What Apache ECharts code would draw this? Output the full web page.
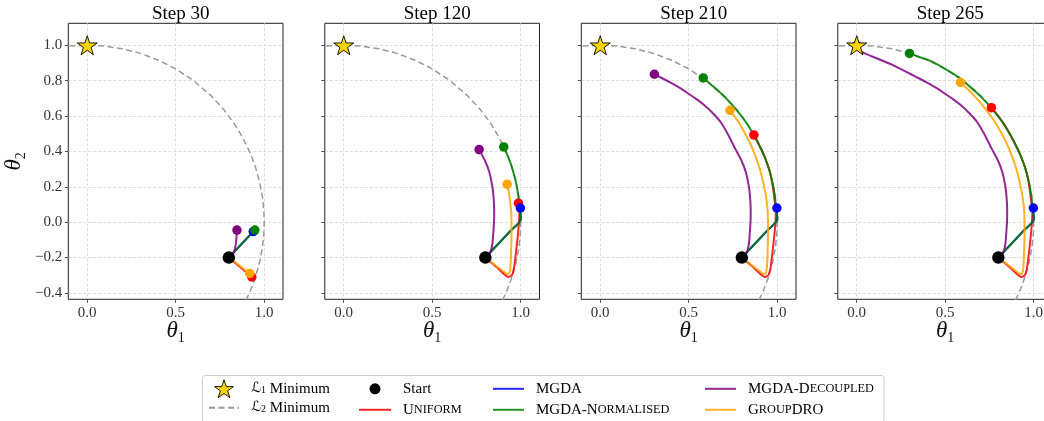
<!DOCTYPE html>
<html>
<head>
<meta charset="utf-8">
<script src="https://cdn.jsdelivr.net/npm/echarts@6/dist/echarts.min.js"></script>
<style>
html,body{margin:0;padding:0;background:#fff;}
#chart{width:1044px;height:421px;}
</style>
</head>
<body>
<div id="chart"></div>
<script>
// ---------------- data ----------------
const stepTitles = ['Step 30', 'Step 120', 'Step 210', 'Step 265'];
const xTicks = [0, 0.5, 1.0];
const yTicks = [-0.4, -0.2, 0.0, 0.2, 0.4, 0.6, 0.8, 1.0];
const startPoint = [0.8, -0.2];
const l1Minimum = [0.0, 1.0];
// L2 minimum set (dashed arc)
const l2Arc = [[-0.1,0.995],[0.0,1.0],[0.1,0.995],[0.2,0.98],[0.3,0.954],[0.4,0.917],[0.5,0.866],
  [0.6,0.8],[0.7,0.714],[0.77,0.638],[0.83,0.558],[0.88,0.475],[0.92,0.392],[0.95,0.312],
  [0.975,0.222],[0.99,0.141],[0.998,0.06],[1.0,0.0],[0.998,-0.06],[0.99,-0.141],[0.975,-0.222],
  [0.95,-0.312],[0.92,-0.392],[0.88,-0.475]];

// trajectories (theta1, theta2); *Ends = index of the last point at each step panel
const uniformPath = [[0.80,-0.20],[0.865,-0.255],[0.93,-0.31],[0.95,-0.30],[0.962,-0.26],[0.972,-0.18],
  [0.982,-0.09],[0.99,0.0],[0.992,0.06],[0.987,0.107],[0.975,0.20],[0.96,0.28],[0.94,0.34],
  [0.91,0.41],[0.868,0.493],[0.835,0.55],[0.80,0.60],[0.761,0.647]];
const uniformEnds = [2, 9, 14, 17];

const mgdaPath = [[0.80,-0.20],[0.938,-0.053],[1.0,0.015],[0.998,0.08]];
const mgdaEnds = [1, 3, 3, 3];

const normalisedPath = [[0.80,-0.20],[0.947,-0.045],[1.002,0.017],[0.994,0.07],[0.986,0.15],
  [0.973,0.225],[0.953,0.30],[0.931,0.365],[0.904,0.425],[0.87,0.49],[0.83,0.555],[0.78,0.622],
  [0.73,0.68],[0.68,0.73],[0.63,0.774],[0.582,0.815],[0.53,0.848],[0.455,0.892],[0.40,0.918],
  [0.345,0.936],[0.298,0.954]];
const normalisedEnds = [1, 8, 15, 20];

const decoupledPath = [[0.80,-0.20],[0.828,-0.17],[0.84,-0.12],[0.846,-0.045],[0.849,0.0],
  [0.85,0.05],[0.848,0.12],[0.84,0.20],[0.822,0.285],[0.797,0.35],[0.765,0.41],[0.725,0.49],
  [0.68,0.566],[0.635,0.617],[0.587,0.662],[0.54,0.698],[0.493,0.73],[0.447,0.76],[0.40,0.787],
  [0.353,0.812],[0.306,0.836],[0.21,0.885],[0.115,0.925],[0.021,0.966],[0.0,0.998]];
const decoupledEnds = [3, 10, 20, 24];

const groupDroPath = [[0.80,-0.20],[0.918,-0.29],[0.933,-0.292],[0.941,-0.26],[0.945,-0.18],
  [0.948,-0.06],[0.946,0.06],[0.936,0.15],[0.923,0.214],[0.905,0.29],[0.878,0.37],[0.845,0.45],
  [0.805,0.525],[0.775,0.575],[0.733,0.632],[0.69,0.685],[0.64,0.74],[0.586,0.79]];
const groupDroEnds = [1, 8, 14, 17];

const legendLabels = {
  'L1': '{g|}{c|ℒ}{s|1}{n| Minimum}',
  'L2': '{g|}{c|ℒ}{s|2}{n| Minimum}',
  'Start': '{g|}{n|Start}',
  'Uniform': '{g|}{n|U}{sc|NIFORM}',
  'MGDA': '{g|}{n|MGDA}',
  'MGDA-Normalised': '{g|}{n|MGDA-N}{sc|ORMALISED}',
  'MGDA-Decoupled': '{g|}{n|MGDA-D}{sc|ECOUPLED}',
  'GroupDRO': '{g|}{n|G}{sc|ROUP}{n|DRO}'
};

// ---------------- layout / style ----------------
const SERIF = "'Liberation Serif', 'DejaVu Serif', serif";
const P_LEFT = 68.3, P_STEP = 256.5, P_W = 214.7, P_TOP = 23.3, P_H = 276;
const X_MIN = -0.107, X_MAX = 1.106, Y_MIN = -0.436, Y_MAX = 1.124;
const STAR = 'path://M50,0L61.2,34.5L97.6,34.5L68.2,55.9L79.4,90.5L50,69.1L20.6,90.5L31.8,55.9L2.4,34.5L38.8,34.5Z';

const methods = [
  {name: 'Uniform', color: '#ff0000', path: uniformPath, ends: uniformEnds},
  {name: 'MGDA', color: '#0000ff', path: mgdaPath, ends: mgdaEnds},
  {name: 'MGDA-Normalised', color: '#008000', path: normalisedPath, ends: normalisedEnds},
  {name: 'MGDA-Decoupled', color: '#800080', path: decoupledPath, ends: decoupledEnds},
  {name: 'GroupDRO', color: '#ffa500', path: groupDroPath, ends: groupDroEnds}
];

function fmt(v) { return v.toFixed(1).replace('-', '\u2212'); }

const grids = [], xAxes = [], yAxes = [], titles = [], series = [];
const nameRich = {
  t: {fontFamily: SERIF, fontStyle: 'italic', fontSize: 23, color: '#111', lineHeight: 28, verticalAlign: 'middle'},
  s: {fontFamily: SERIF, fontSize: 14, color: '#111', lineHeight: 14, verticalAlign: 'bottom'}
};

stepTitles.forEach((title, p) => {
  const left = P_LEFT + P_STEP * p;
  grids.push({left: left, top: P_TOP, width: P_W, height: P_H, show: true,
    borderColor: '#222', borderWidth: 1, backgroundColor: 'transparent',
    containLabel: false, outerBoundsMode: 'none'});
  titles.push({text: title, left: left + P_W / 2, top: 0, textAlign: 'center',
    textStyle: {fontFamily: SERIF, fontSize: 19, fontWeight: 'normal', color: '#000'}});
  xAxes.push({type: 'value', gridIndex: p, min: X_MIN, max: X_MAX,
    name: '{t|θ}{s|1}', nameLocation: 'middle', nameGap: 18, nameMoveOverlap: false,
    nameTextStyle: {rich: nameRich},
    axisLine: {show: false, onZero: false},
    axisTick: {show: true, length: 3.5, customValues: xTicks, lineStyle: {color: '#222', width: 0.8}},
    axisLabel: {show: true, customValues: xTicks, formatter: fmt, margin: 6,
      fontFamily: SERIF, fontSize: 15, color: '#333'},
    splitLine: {show: true, lineStyle: {color: '#d3d3d3', width: 0.8, type: [3, 2]}}
  });
  yAxes.push({type: 'value', gridIndex: p, min: Y_MIN, max: Y_MAX,
    name: p === 0 ? '{t|θ}{s|2}' : '', nameLocation: 'middle', nameGap: 40, nameRotate: 90,
    nameMoveOverlap: false,
    nameTextStyle: {rich: nameRich},
    axisLine: {show: false, onZero: false},
    axisTick: {show: true, length: 3.5, customValues: yTicks, lineStyle: {color: '#222', width: 0.8}},
    axisLabel: {show: p === 0, customValues: yTicks, formatter: fmt, margin: 6,
      fontFamily: SERIF, fontSize: 15, color: '#333'},
    splitLine: {show: true, lineStyle: {color: '#d3d3d3', width: 0.8, type: [3, 2]}}
  });

  series.push({type: 'line', name: 'L2', xAxisIndex: p, yAxisIndex: p, data: l2Arc,
    symbol: 'none', showSymbol: false, z: 2, silent: true,
    itemStyle: {color: '#999999'},
    lineStyle: {color: '#999999', width: 1.5, type: [6, 3.5]}});

  methods.forEach(m => {
    const end = m.ends[p];
    series.push({type: 'line', name: m.name, xAxisIndex: p, yAxisIndex: p,
      data: m.path.slice(0, end + 1), symbol: 'none', showSymbol: false, z: 2, silent: true,
      smooth: 0.2,
      lineStyle: {color: m.color, width: 2, opacity: 0.85}, itemStyle: {color: m.color}});
    series.push({type: 'scatter', name: m.name + ' end', xAxisIndex: p, yAxisIndex: p,
      data: [m.path[end]], symbol: 'circle', symbolSize: 9.5, z: 2, silent: true,
      itemStyle: {color: m.color, opacity: 1}});
  });

  series.push({type: 'scatter', name: 'Start', xAxisIndex: p, yAxisIndex: p, data: [startPoint],
    symbol: 'circle', symbolSize: 12.5, z: 3, silent: true, itemStyle: {color: '#000', opacity: 1}});
  series.push({type: 'scatter', name: 'L1', xAxisIndex: p, yAxisIndex: p, data: [l1Minimum],
    symbol: STAR, symbolKeepAspect: true, symbolSize: 20, z: 4, silent: true,
    itemStyle: {color: '#FFD700', borderColor: '#000', borderWidth: 0.9, opacity: 1}});
});

const legendRich = {
  g: {width: 7},
  n: {fontFamily: SERIF, fontSize: 15, color: '#000', lineHeight: 14},
  sc: {fontFamily: SERIF, fontSize: 12.3, color: '#000', lineHeight: 14},
  c: {fontFamily: "'DejaVu Serif', 'DejaVu Sans', serif", fontSize: 14, color: '#000', lineHeight: 14},
  s: {fontFamily: SERIF, fontSize: 10, color: '#000', lineHeight: 10, verticalAlign: 'bottom'}
};
function lineItem(name) { return {name: name, itemStyle: {opacity: 0}}; }
function legendCol(left, top, itemW, itemH, gap, data) {
  return {orient: 'vertical', left: left, top: top, height: 60, itemWidth: itemW, itemHeight: itemH,
    itemGap: gap, selectedMode: false, padding: 0, data: data,
    formatter: name => legendLabels[name], textStyle: {rich: legendRich}};
}
const legends = [
  legendCol(208, 379.3, 30, 18, 2, [
    {name: 'L1', itemStyle: {color: '#FFD700', borderColor: '#000', borderWidth: 0.9, opacity: 1}},
    lineItem('L2')]),
  legendCol(358, 381.3, 32, 11, 6, [{name: 'Start', itemStyle: {color: '#000', opacity: 1}}, lineItem('Uniform')]),
  legendCol(492, 381.3, 31, 14, 6, [lineItem('MGDA'), lineItem('MGDA-Normalised')]),
  legendCol(704, 381.3, 31, 14, 6, [lineItem('MGDA-Decoupled'), lineItem('GroupDRO')])
];

const chart = echarts.init(document.getElementById('chart'), null, {renderer: 'canvas'});
chart.setOption({
  animation: false,
  backgroundColor: '#fff',
  title: titles,
  grid: grids,
  xAxis: xAxes,
  yAxis: yAxes,
  legend: legends,
  graphic: [{type: 'rect', z: 0, silent: true,
    shape: {x: 202.5, y: 375.5, width: 681.5, height: 47, r: 3},
    style: {fill: '#fff', stroke: '#cccccc', lineWidth: 1}}],
  series: series
});
</script>
</body>
</html>
